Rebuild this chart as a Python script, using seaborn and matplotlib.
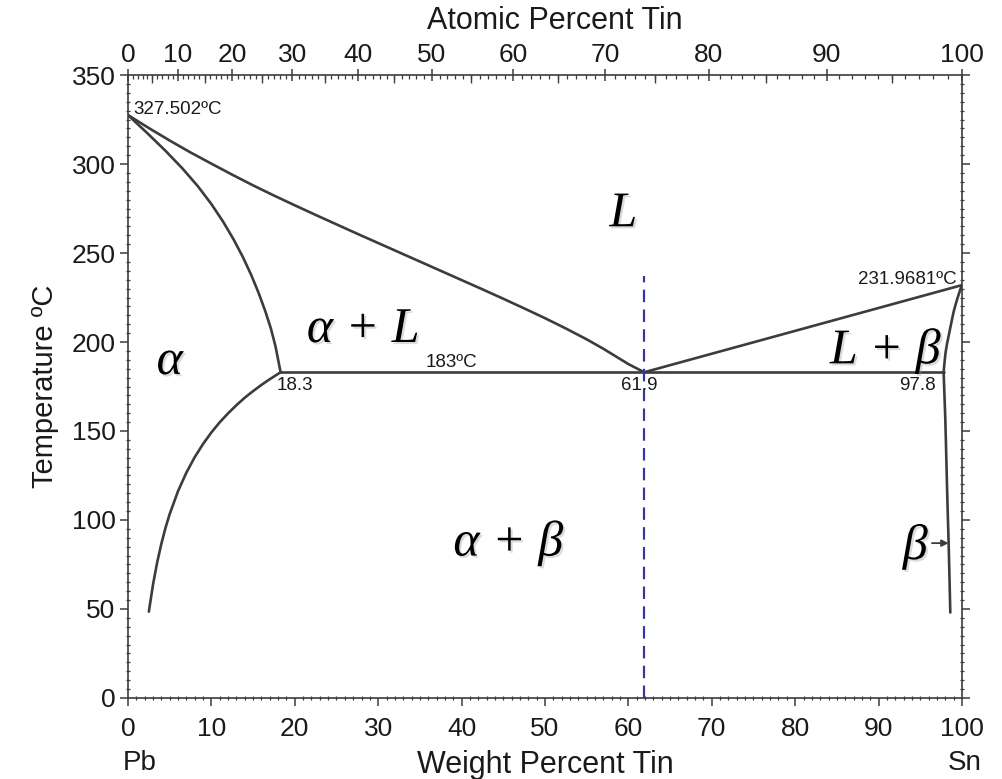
import numpy as np
import pandas as pd
import matplotlib
matplotlib.use("Agg")
import matplotlib.pyplot as plt
import matplotlib.patheffects as pe
from matplotlib.ticker import MultipleLocator, FixedLocator, NullFormatter
import seaborn as sns

# ---- Pb–Sn phase boundaries (weight percent Sn, temperature in °C) ----
liquidus_pb_wt = [0, 2.5, 5, 7.5, 10, 12.5, 15, 17.5, 20, 22.5, 25, 27.5, 30, 32.5, 35,
                  37.5, 40, 42.5, 45, 47.5, 50, 52.5, 55, 57, 58.5, 60, 61.9]
liquidus_pb_T = [327.502, 320.2, 313.2, 306.5, 300.2, 294.0, 288.0, 282.3, 276.8, 271.4,
                 266.1, 260.8, 255.6, 250.4, 245.2, 240.0, 234.8, 229.6, 224.3, 218.9,
                 213.4, 207.6, 201.5, 196.2, 191.9, 187.6, 183]

solidus_alpha_wt = [0, 2.28, 4.48, 6.53, 8.38, 10.0, 11.42, 12.68, 13.8, 14.79, 15.67,
                    16.45, 17.14, 17.69, 18.11, 18.3]
solidus_alpha_T = [327.502, 317.5, 307.5, 297.5, 287.5, 277.5, 267.5, 257.5, 247.5, 237.5,
                   227.5, 217.5, 207.5, 197.5, 187.5, 183]

solvus_alpha_wt = [18.3, 17, 16, 15, 14, 13, 12, 11, 10, 9, 8, 7, 6, 5, 4.5, 4, 3.5, 3,
                   2.5]
solvus_alpha_T = [183, 179.1, 175.9, 172.4, 168.7, 164.5, 159.9, 154.9, 149.2, 142.7,
                  135.3, 126.6, 116.2, 103.3, 95.6, 86.6, 76.2, 63.7, 48.5]

liquidus_sn_wt = [61.9, 100]
liquidus_sn_T = [183, 231.9681]

solidus_beta_wt = [100, 99.75, 99.5, 99.25, 99.0, 98.8, 98.6, 98.4, 98.2, 98.05, 97.95,
                   97.87, 97.8]
solidus_beta_T = [231.9681, 228.8, 225.2, 221.3, 217.0, 212.6, 208.0, 203.4, 198.8,
                  194.6, 190.6, 186.6, 183]

solvus_beta_wt = [97.8, 97.9, 98.0, 98.1, 98.2, 98.3, 98.4, 98.5, 98.6]
solvus_beta_T = [183, 170, 157, 139, 120, 103, 87, 68, 48]

eutectic_T = 183
eutectic_wt = [18.3, 61.9, 97.8]
pb_melt_T = 327.502
sn_melt_T = 231.9681
composition_line_top = 237

# axis ticks
weight_ticks = list(range(0, 101, 10))
atomic_ticks = list(range(0, 101, 10))
temp_ticks = list(range(0, 351, 50))

M_PB = 207.2
M_SN = 118.71


def atomic_to_weight(a):
    a = np.asarray(a, dtype=float)
    return 100.0 * a * M_SN / (a * M_SN + (100.0 - a) * M_PB)


# long table of all boundary curves
segments = {
    "liquidus_pb": (liquidus_pb_wt, liquidus_pb_T),
    "solidus_alpha": (solidus_alpha_wt, solidus_alpha_T),
    "solvus_alpha": (solvus_alpha_wt, solvus_alpha_T),
    "eutectic": ([eutectic_wt[0], eutectic_wt[2]], [eutectic_T, eutectic_T]),
    "liquidus_sn": (liquidus_sn_wt, liquidus_sn_T),
    "solidus_beta": (solidus_beta_wt, solidus_beta_T),
    "solvus_beta": (solvus_beta_wt, solvus_beta_T),
}
rows = []
for name, (xs, ts) in segments.items():
    for i, (x, t) in enumerate(zip(xs, ts)):
        rows.append({"boundary": name, "order": i, "wt": x, "T": t})
df = pd.DataFrame(rows)

sns.set_theme(style="white")
plt.rcParams["font.family"] = ["Liberation Sans", "DejaVu Sans"]

LINE = "#3c3c3c"
TEXT = "#1a1a1a"

fig = plt.figure(figsize=(10.03, 7.79), dpi=100)
ax = fig.add_axes([0.1276, 0.104, 0.8315, 0.7997])

sns.lineplot(data=df, x="wt", y="T", units="boundary", estimator=None, sort=False,
             color=LINE, linewidth=1.9, legend=False, ax=ax)
for ln in ax.lines:
    ln.set_solid_joinstyle("round")
    ln.set_solid_capstyle("round")

# composition line through the eutectic point
ax.plot([eutectic_wt[1], eutectic_wt[1]], [0, composition_line_top],
        color="#2b2bf0", linewidth=1.5, dashes=(6, 3.5))

ax.set_xlim(0, 100)
ax.set_ylim(0, 350)

for sp in ax.spines.values():
    sp.set_visible(True)
    sp.set_color(LINE)
    sp.set_linewidth(1.2)

ax.xaxis.set_major_locator(FixedLocator(weight_ticks))
ax.xaxis.set_minor_locator(MultipleLocator(1))
ax.yaxis.set_major_locator(FixedLocator(temp_ticks))
ax.yaxis.set_minor_locator(MultipleLocator(5))
ax.tick_params(axis="both", which="major", direction="out", length=6, width=1.1,
               color=LINE, labelsize=19, labelcolor=TEXT)
ax.tick_params(axis="x", which="major", pad=8)
ax.tick_params(axis="y", which="major", pad=3)
ax.tick_params(axis="both", which="minor", direction="inout", length=3.5, width=0.9,
               color=LINE)
ax.tick_params(axis="y", which="both", left=True, right=True, labelright=False)
ax.tick_params(axis="x", which="both", bottom=True, top=False)

ax.set_xlabel("Weight Percent Tin", fontsize=22, color=TEXT, labelpad=6)
ax.set_ylabel("Temperature ºC", fontsize=21, color=TEXT, labelpad=9)

# atomic percent scale on top
ax_top = ax.twiny()
ax_top.set_xlim(0, 100)
ax_top.xaxis.set_major_locator(FixedLocator(atomic_to_weight(atomic_ticks)))
ax_top.set_xticklabels([str(v) for v in atomic_ticks])
ax_top.xaxis.set_minor_locator(FixedLocator(atomic_to_weight(np.arange(0, 101, 1))))
ax_top.tick_params(axis="x", which="major", direction="inout", length=9, width=1.1,
                   color=LINE, labelsize=19, labelcolor=TEXT, pad=1)
ax_top.tick_params(axis="x", which="minor", direction="in", length=3, width=0.9, color=LINE)
ax_top.set_xlabel("Atomic Percent Tin", fontsize=22, color=TEXT)
ax_top.xaxis.set_label_coords(0.512, 1.062)
ax_top.xaxis.label.set_verticalalignment("bottom")
for sp in ax_top.spines.values():
    sp.set_visible(False)

ax_mid = ax.twiny()
ax_mid.set_xlim(0, 100)
ax_mid.xaxis.set_major_locator(FixedLocator(atomic_to_weight(np.arange(5, 100, 10))))
ax_mid.xaxis.set_major_formatter(NullFormatter())
ax_mid.tick_params(axis="x", which="major", direction="in", length=6, width=1.0, color=LINE)
ax_mid.xaxis.set_minor_locator(FixedLocator([]))
for sp in ax_mid.spines.values():
    sp.set_visible(False)

# element names under the axis ends
xt = ax.get_xaxis_transform()
ax.text(-0.6, -0.083, "Pb", transform=xt, ha="left", va="top", fontsize=20, color=TEXT)
ax.text(100.3, -0.083, "Sn", transform=xt, ha="center", va="top", fontsize=20, color=TEXT)

# point annotations
small = dict(fontsize=13.5, color=TEXT)
ax.text(0.7, pb_melt_T - 1.5, "327.502ºC", ha="left", va="bottom", **small)
ax.text(99.3, sn_melt_T - 1.5, "231.9681ºC", ha="right", va="bottom", **small)
ax.text(38.8, eutectic_T + 0.5, "183ºC", ha="center", va="bottom", **small)
ax.text(17.8, eutectic_T - 2.5, "18.3", ha="left", va="top", **small)
ax.text(61.3, eutectic_T - 2.5, "61.9", ha="center", va="top", **small)
ax.text(94.6, eutectic_T - 2.5, "97.8", ha="center", va="top", **small)

# phase field labels
shadow = [pe.SimplePatchShadow(offset=(1.5, -1.5), shadow_rgbFace="#9a9a9a", alpha=0.35),
          pe.Normal()]
phase = dict(fontsize=36, family="Liberation Serif", style="italic", color="black",
             ha="center", va="baseline", path_effects=shadow)
ax.text(59.4, 265, "L", **phase)
ax.text(28.2, 200, "α + L", **phase)
ax.text(5.0, 182, "α", **phase)
ax.text(90.8, 188, "L + β", **phase)
ax.text(45.6, 80, "α + β", **phase)
ax.text(94.4, 78, "β", **phase)

# pointer from the β label to the solvus
ax.annotate("", xy=(solvus_beta_wt[6], solvus_beta_T[6]), xytext=(96.4, solvus_beta_T[6]),
            arrowprops=dict(arrowstyle="-|>", color=LINE, lw=1.3, mutation_scale=10,
                            shrinkA=0, shrinkB=0))

fig.savefig("out.png", dpi=100)
